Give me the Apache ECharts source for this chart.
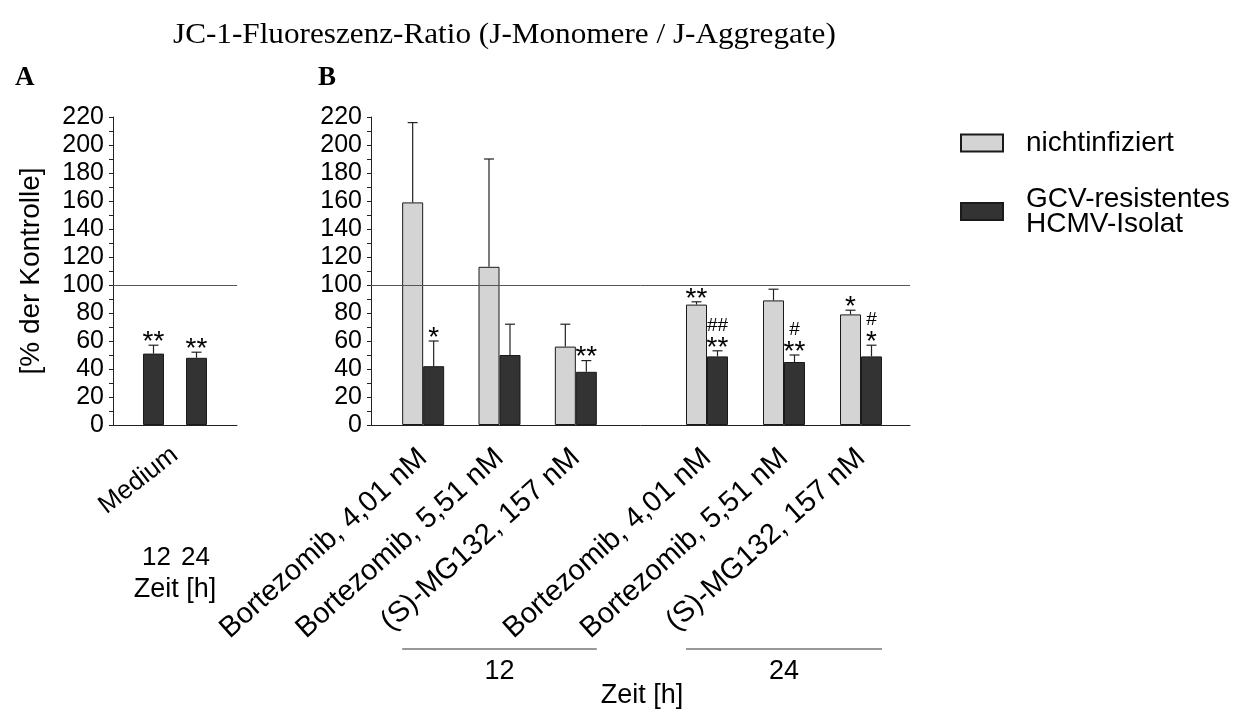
<!DOCTYPE html>
<html>
<head>
<meta charset="utf-8">
<script src="https://cdn.jsdelivr.net/npm/echarts@6/dist/echarts.min.js"></script>
<style>
  html, body { margin: 0; padding: 0; background: #fff; }
  #chart { width: 1238px; height: 709px; }
</style>
</head>
<body>
<div id="chart"></div>
<script>
// ---- data ----
const titleText = 'JC-1-Fluoreszenz-Ratio (J-Monomere / J-Aggregate)';
const panelLabels = ['A', 'B'];
const yAxisName = '[% der Kontrolle]';
const timeAxisName = 'Zeit [h]';
const timeLabels = ['12', '24'];
const yMin = 0, yMax = 220, yStep = 20;

const seriesNames = ['nichtinfiziert', 'GCV-resistentes\nHCMV-Isolat'];

// Panel A: medium control, infected cells, 12 h and 24 h
const mediumCategories = ['Medium'];
const medium12 = [51];
const medium12Sd = [6];
const medium12Sig = ['**'];
const medium24 = [48];
const medium24Sd = [4];
const medium24Sig = ['**'];

// Panel B: proteasome inhibitors
const drugCategories = ['Bortezomib, 4,01 nM', 'Bortezomib, 5,51 nM', '(S)-MG132, 157 nM'];
const uninf12 = [159, 113, 56];
const uninf12Sd = [57, 77, 16];
const uninf12Sig = ['', '', ''];
const gcv12 = [42, 50, 38];
const gcv12Sd = [18, 22, 8];
const gcv12Sig = ['*', '', '**'];
const uninf24 = [86, 89, 79];
const uninf24Sd = [2, 8, 3];
const uninf24Sig = ['**', '', '*'];
const gcv24 = [49, 45, 49];
const gcv24Sd = [4, 5, 8];
const gcv24Sig = ['##\n**', '#\n**', '#\n*'];

const referenceLevel = 100;

// ---- styles ----
const SANS = '"Liberation Sans", Arial, sans-serif';
const SERIF = '"Liberation Serif", "Times New Roman", serif';
const LIGHT = '#d4d4d4';
const DARK = '#333333';
const INK = '#222222';
const BAR_W = 21;
const A_GAP = 22;             // space between the two medium bars
const PLOT_TOP = 117, PLOT_H = 308;

const chart = echarts.init(document.getElementById('chart'), null, { renderer: 'canvas' });

function yAxisVisible(gridIndex) {
  return {
    type: 'value', gridIndex, min: yMin, max: yMax, interval: yStep,
    axisLine: { show: true, lineStyle: { color: INK, width: 1 } },
    axisTick: { show: true, length: 4, lineStyle: { color: INK } },
    minorTick: { show: true, splitNumber: 2, length: 4, lineStyle: { color: INK } },
    splitLine: { show: false },
    axisLabel: { fontFamily: SANS, fontSize: 25, color: '#000', margin: 9 }
  };
}
function yAxisHidden(gridIndex) {
  return { type: 'value', gridIndex, min: yMin, max: yMax, show: false, splitLine: { show: false } };
}
function categoryAxis(gridIndex, data, showLine, fontSize, rotate, margin) {
  return {
    type: 'category', gridIndex, data,
    axisLine: { show: showLine, lineStyle: { color: INK, width: 1 } },
    axisTick: { show: false },
    axisLabel: {
      interval: 0, rotate, fontFamily: SANS, fontSize, color: '#000',
      margin, align: 'right', verticalAlign: 'middle', lineHeight: fontSize
    }
  };
}

function barSeries(name, xi, yi, values, color, extra) {
  return Object.assign({
    type: 'bar', name, xAxisIndex: xi, yAxisIndex: yi, data: values,
    barWidth: BAR_W, z: 2,
    itemStyle: { color, borderColor: '#1a1a1a', borderWidth: 1 }
  }, extra || {});
}

// upper error whisker plus significance marks (stars, hashes) above it
function errorSeries(xi, yi, means, sds, sigs, offsetPx) {
  return {
    type: 'custom', xAxisIndex: xi, yAxisIndex: yi, z: 5, silent: true,
    data: means.map((m, i) => [i, m, m + sds[i]]),
    renderItem(params, api) {
      const i = api.value(0);
      const base = api.coord([i, api.value(1)]);
      const top = api.coord([i, api.value(2)]);
      const x = base[0] + offsetPx;
      const children = [
        { type: 'line', shape: { x1: x, y1: base[1], x2: x, y2: top[1] }, style: { stroke: INK, lineWidth: 1.2 } },
        { type: 'line', shape: { x1: x - 5, y1: top[1], x2: x + 5, y2: top[1] }, style: { stroke: INK, lineWidth: 1.2 } }
      ];
      const parts = (sigs[params.dataIndex] || '').split('\n').filter(Boolean).reverse();
      let y = top[1] - 9;
      parts.forEach((p, k) => {
        const isHash = p.indexOf('#') >= 0;
        if (k > 0) y -= 16;
        children.push({
          type: 'text',
          style: {
            text: p, x: x, y: isHash ? y : y + 6,
            fill: '#000', align: 'center', verticalAlign: 'middle',
            font: (isHash ? '19px ' : '28px ') + SANS
          }
        });
      });
      return { type: 'group', children };
    }
  };
}

function refLine(xi, yi) {
  return {
    type: 'line', xAxisIndex: xi, yAxisIndex: yi, data: [], z: 3, silent: true,
    markLine: {
      silent: true, symbol: ['none', 'none'], label: { show: false },
      lineStyle: { color: '#555', width: 1, type: 'solid' },
      data: [{ yAxis: referenceLevel }]
    }
  };
}

const halfA = (BAR_W + A_GAP) / 2;
const halfB = BAR_W / 2;

const option = {
  animation: false,
  backgroundColor: '#fff',
  grid: [
    { left: 113, top: PLOT_TOP, width: 124, height: PLOT_H, outerBoundsMode: 'none' },
    { left: 371, top: PLOT_TOP, width: 539, height: PLOT_H, outerBoundsMode: 'none' },
    { left: 385, top: PLOT_TOP, width: 229, height: PLOT_H, outerBoundsMode: 'none' },
    { left: 668.5, top: PLOT_TOP, width: 231, height: PLOT_H, outerBoundsMode: 'none' }
  ],
  xAxis: [
    categoryAxis(0, mediumCategories, true, 26, 38, 27),
    { type: 'value', gridIndex: 1, min: 0, max: 1, axisLine: { show: true, onZero: false, lineStyle: { color: INK, width: 1 } },
      axisTick: { show: false }, axisLabel: { show: false }, splitLine: { show: false } },
    categoryAxis(2, drugCategories, false, 29, 42, 29),
    categoryAxis(3, drugCategories, false, 29, 42, 29)
  ],
  yAxis: [
    Object.assign(yAxisVisible(0), {
      name: yAxisName, nameLocation: 'middle', nameGap: 68,
      nameTextStyle: { fontFamily: SANS, fontSize: 28, color: '#000' }
    }),
    yAxisVisible(1),
    yAxisHidden(2),
    yAxisHidden(3)
  ],
  legend: {
    data: seriesNames,
    orient: 'vertical', left: 960, top: 129, padding: 0,
    itemWidth: 42, itemHeight: 17, itemGap: 28, icon: 'rect',
    selectedMode: false,
    textStyle: { fontFamily: SANS, fontSize: 28, color: '#000', lineHeight: 25, padding: [0, 0, 0, 18] }
  },
  series: [
    barSeries(seriesNames[1], 0, 0, medium12, DARK, { barGap: (A_GAP / BAR_W * 100) + '%' }),
    barSeries(seriesNames[1], 0, 0, medium24, DARK),
    barSeries(seriesNames[0], 2, 2, uninf12, LIGHT, { barGap: '0%' }),
    barSeries(seriesNames[1], 2, 2, gcv12, DARK),
    barSeries(seriesNames[0], 3, 3, uninf24, LIGHT, { barGap: '0%' }),
    barSeries(seriesNames[1], 3, 3, gcv24, DARK),
    refLine(0, 0),
    refLine(1, 1),
    errorSeries(0, 0, medium12, medium12Sd, medium12Sig, -halfA),
    errorSeries(0, 0, medium24, medium24Sd, medium24Sig, halfA),
    errorSeries(2, 2, uninf12, uninf12Sd, uninf12Sig, -halfB),
    errorSeries(2, 2, gcv12, gcv12Sd, gcv12Sig, halfB),
    errorSeries(3, 3, uninf24, uninf24Sd, uninf24Sig, -halfB),
    errorSeries(3, 3, gcv24, gcv24Sd, gcv24Sig, halfB)
  ]
};
chart.setOption(option);

// ---- titles, panel letters and time-point brackets ----
const graphics = [
  { type: 'text', x: 173, y: 35, scaleX: 1.04,
    style: { text: titleText, font: '30px ' + SERIF, fill: '#000', verticalAlign: 'middle' } },
  { type: 'text', x: 15, y: 78,
    style: { text: panelLabels[0], font: 'bold 27px ' + SERIF, fill: '#000', verticalAlign: 'middle' } },
  { type: 'text', x: 318, y: 78,
    style: { text: panelLabels[1], font: 'bold 27px ' + SERIF, fill: '#000', verticalAlign: 'middle' } }
];

// panel A: time points under the two medium bars
const medX = chart.convertToPixel({ xAxisIndex: 0 }, mediumCategories[0]);
[-halfA, halfA].forEach((dx, k) => {
  graphics.push({ type: 'text', x: medX + dx + (k === 0 ? 3 : -1), y: 558,
    style: { text: timeLabels[k], font: '26px ' + SANS, fill: '#000', align: 'center', verticalAlign: 'middle' } });
});
graphics.push({ type: 'text', x: medX, y: 590,
  style: { text: timeAxisName, font: '27px ' + SANS, fill: '#000', align: 'center', verticalAlign: 'middle' } });

// panel B: bracket lines spanning each time block
const spans = [2, 3].map(xi => {
  const first = chart.convertToPixel({ xAxisIndex: xi }, drugCategories[0]);
  const last = chart.convertToPixel({ xAxisIndex: xi }, drugCategories[drugCategories.length - 1]);
  return [first - BAR_W, last + BAR_W];
});
spans.forEach((s, k) => {
  graphics.push({ type: 'line', shape: { x1: s[0], y1: 649, x2: s[1], y2: 649 }, style: { stroke: '#333', lineWidth: 1 } });
  graphics.push({ type: 'text', x: (s[0] + s[1]) / 2, y: 672,
    style: { text: timeLabels[k], font: '27px ' + SANS, fill: '#000', align: 'center', verticalAlign: 'middle' } });
});
graphics.push({ type: 'text', x: (spans[0][0] + spans[1][1]) / 2, y: 696,
  style: { text: timeAxisName, font: '27px ' + SANS, fill: '#000', align: 'center', verticalAlign: 'middle' } });

chart.setOption({ graphic: graphics });
</script>
</body>
</html>
